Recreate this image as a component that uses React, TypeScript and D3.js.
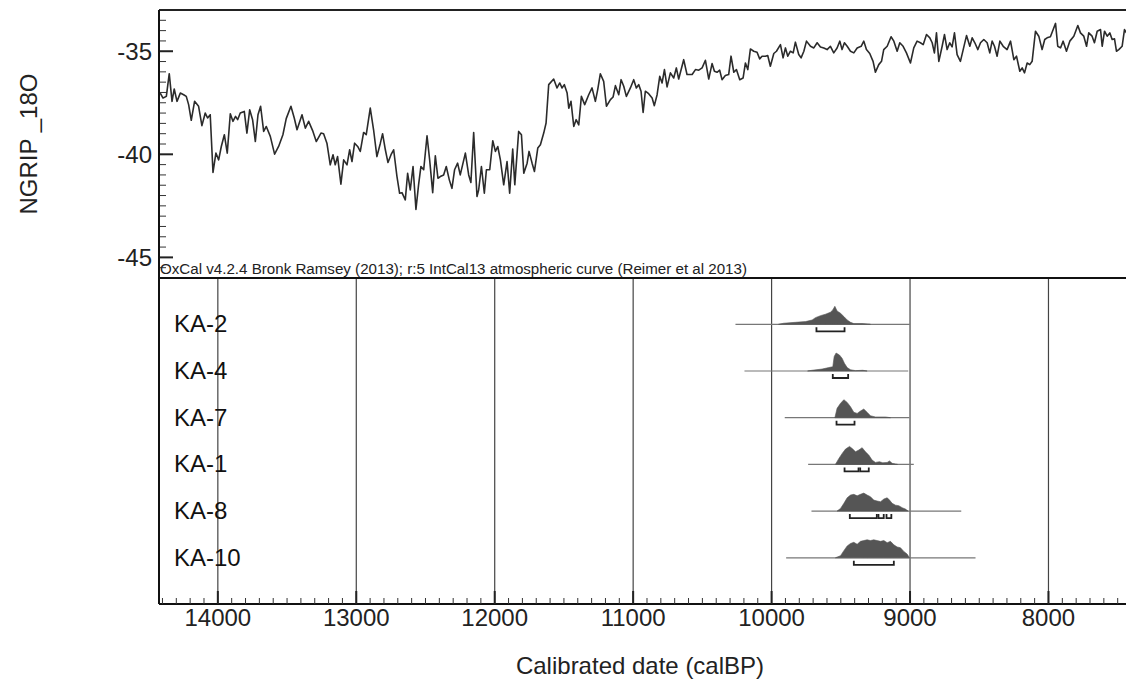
import React from "react";
import * as d3 from "d3";

// NGRIP δ18O series: [calBP, value]
const ngrip: [number, number][] = [
  [14416,-37.03],[14396,-37.27],[14372,-37.19],[14351,-36.09],[14331,-37.43],[14315,-36.83],[14295,-37.43],[14271,-37.03],[14247,-37.11],[14228,-37.19],
  [14211,-37.59],[14192,-38.35],[14168,-37.43],[14139,-37.67],[14115,-38.61],[14091,-38.0],[14074,-38.24],[14055,-38.08],[14035,-40.88],[14014,-39.94],
  [13994,-40.27],[13975,-39.62],[13953,-39.05],[13932,-39.94],[13910,-38.03],[13891,-38.4],[13872,-38.16],[13857,-38.32],[13838,-38.0],[13809,-37.92],
  [13790,-38.97],[13770,-37.84],[13749,-38.32],[13729,-39.38],[13710,-38.08],[13691,-37.67],[13669,-38.89],[13650,-38.65],[13621,-39.13],[13590,-39.99],
  [13561,-39.62],[13530,-39.05],[13506,-38.27],[13472,-37.67],[13448,-38.24],[13428,-38.81],[13392,-38.08],[13368,-38.73],[13344,-38.4],[13313,-38.89],
  [13289,-39.38],[13255,-38.97],[13236,-39.0],[13212,-39.46],[13188,-40.51],[13168,-40.02],[13152,-40.51],[13135,-40.11],[13111,-41.45],[13091,-40.27],
  [13067,-40.51],[13048,-39.78],[13031,-40.35],[13012,-39.46],[12990,-39.62],[12971,-39.86],[12947,-38.94],[12928,-39.05],[12899,-37.76],[12875,-38.81],
  [12851,-40.11],[12826,-39.46],[12810,-39.0],[12790,-39.78],[12771,-40.4],[12749,-40.02],[12730,-39.78],[12706,-41.08],[12687,-41.89],[12670,-41.86],
  [12646,-42.21],[12629,-40.92],[12610,-41.73],[12590,-40.59],[12569,-42.67],[12550,-41.48],[12533,-40.59],[12513,-40.75],[12489,-39.1],[12470,-40.27],
  [12448,-41.86],[12429,-40.07],[12410,-41.16],[12393,-41.08],[12369,-41.0],[12350,-40.59],[12328,-41.24],[12309,-41.65],[12290,-40.75],[12268,-40.43],
  [12249,-41.0],[12212,-39.94],[12188,-41.0],[12172,-41.37],[12152,-38.94],[12128,-42.05],[12116,-41.73],[12096,-40.59],[12075,-41.89],[12060,-40.75],
  [12036,-40.75],[12014,-39.34],[11995,-39.86],[11978,-39.62],[11959,-40.27],[11935,-41.48],[11911,-40.35],[11892,-41.89],[11870,-39.75],[11855,-41.48],
  [11827,-38.89],[11807,-39.05],[11790,-40.92],[11766,-40.43],[11752,-39.86],[11730,-40.43],[11713,-40.83],[11689,-39.7],[11670,-39.54],[11646,-38.97],
  [11629,-38.48],[11610,-36.62],[11574,-36.35],[11550,-36.78],[11530,-36.54],[11514,-36.78],[11497,-36.62],[11477,-37.03],[11465,-37.76],[11449,-37.43],
  [11429,-38.65],[11412,-38.32],[11393,-38.57],[11374,-37.19],[11350,-37.59],[11321,-37.11],[11297,-36.78],[11273,-37.43],[11256,-36.86],[11237,-36.09],
  [11213,-36.46],[11193,-37.67],[11164,-37.35],[11145,-37.22],[11128,-36.67],[11104,-37.11],[11087,-36.38],[11068,-36.7],[11049,-37.19],[11020,-36.78],
  [10996,-36.38],[10977,-36.78],[10960,-36.62],[10943,-36.94],[10928,-37.97],[10912,-36.94],[10888,-37.06],[10863,-37.27],[10847,-37.64],[10827,-37.11],
  [10808,-36.22],[10791,-36.54],[10774,-35.89],[10755,-36.73],[10731,-36.05],[10707,-36.3],[10688,-35.81],[10671,-36.35],[10635,-35.41],[10611,-36.13],
  [10574,-36.13],[10550,-35.89],[10526,-35.92],[10502,-35.81],[10478,-35.44],[10454,-36.35],[10430,-35.6],[10413,-35.97],[10394,-36.02],[10375,-35.92],
  [10358,-36.38],[10334,-36.18],[10310,-36.13],[10293,-35.24],[10273,-36.02],[10254,-35.89],[10230,-36.38],[10206,-36.3],[10189,-35.57],[10172,-35.89],
  [10153,-34.89],[10129,-35.0],[10105,-35.05],[10086,-35.37],[10069,-35.24],[10045,-35.24],[10028,-35.21],[10009,-35.73],[9984,-35.11],[9965,-35.0],
  [9936,-34.68],[9917,-35.32],[9900,-34.84],[9883,-35.24],[9864,-35.0],[9844,-35.08],[9828,-34.56],[9804,-35.16],[9787,-35.32],[9767,-35.0],
  [9748,-34.51],[9719,-34.76],[9695,-34.84],[9671,-34.59],[9647,-34.79],[9623,-34.84],[9599,-34.92],[9575,-34.76],[9551,-35.08],[9527,-34.84],
  [9507,-34.51],[9491,-34.92],[9474,-34.59],[9454,-34.76],[9430,-35.0],[9406,-35.08],[9382,-34.84],[9353,-34.76],[9334,-34.51],[9315,-34.92],
  [9291,-35.11],[9267,-35.49],[9250,-36.02],[9226,-35.65],[9206,-35.49],[9190,-34.92],[9165,-34.76],[9137,-34.3],[9117,-34.51],[9093,-35.0],
  [9074,-34.59],[9050,-34.76],[9026,-35.08],[8997,-35.57],[8973,-34.84],[8949,-34.51],[8925,-34.59],[8905,-34.68],[8881,-34.19],[8857,-34.35],
  [8840,-34.59],[8824,-35.08],[8809,-34.11],[8792,-35.49],[8768,-34.76],[8751,-34.19],[8732,-34.92],[8713,-34.59],[8696,-34.79],[8679,-34.11],
  [8660,-35.16],[8636,-35.49],[8616,-34.92],[8592,-34.24],[8568,-34.76],[8551,-34.35],[8532,-34.59],[8510,-34.92],[8491,-34.59],[8467,-34.43],
  [8443,-34.59],[8424,-35.08],[8407,-34.51],[8390,-34.76],[8371,-35.24],[8351,-34.51],[8327,-34.76],[8299,-34.92],[8274,-34.51],[8250,-35.41],
  [8231,-35.24],[8207,-35.97],[8190,-35.81],[8173,-36.05],[8154,-35.57],[8135,-35.65],[8118,-35.49],[8094,-34.03],[8070,-34.27],[8046,-34.92],
  [8027,-34.43],[8010,-34.35],[7986,-34.3],[7966,-33.95],[7949,-33.65],[7933,-34.76],[7913,-34.84],[7894,-34.51],[7870,-35.0],[7846,-34.51],
  [7817,-34.27],[7788,-33.75],[7769,-34.11],[7745,-34.27],[7725,-34.76],[7709,-34.11],[7685,-34.27],[7668,-34.59],[7648,-34.03],[7624,-33.95],
  [7612,-34.76],[7595,-34.03],[7576,-34.27],[7557,-34.11],[7540,-34.43],[7523,-34.4],[7509,-35.0],[7492,-34.92],[7468,-34.76],[7451,-33.95],[7437,-34.11],
];

// Sample names (top to bottom)
const samples = ["KA-2", "KA-4", "KA-7", "KA-1", "KA-8", "KA-10"];

// Posterior densities: [calBP, relative probability]
const ka2Density: [number, number][] = [
  [9950,0],[9912,0.06],[9828,0.11],[9755,0.15],[9707,0.24],[9683,0.37],[9647,0.48],[9611,0.56],[9575,0.67],[9558,0.8],[9543,1.0],
  [9527,0.74],[9502,0.61],[9478,0.43],[9454,0.24],[9430,0.11],[9406,0.04],[9346,0.04],[9310,0.02],[9286,0],
];
const ka4Density: [number, number][] = [
  [9740,0],[9707,0.04],[9635,0.11],[9587,0.19],[9558,0.24],[9548,0.8],[9534,1.0],[9510,0.89],[9490,0.7],[9474,0.43],
  [9454,0.19],[9430,0.07],[9394,0.02],[9341,0.04],[9310,0],
];
const ka7Density: [number, number][] = [
  [9543,0],[9527,0.52],[9502,0.8],[9478,1.0],[9454,0.85],[9430,0.61],[9406,0.3],[9382,0.24],[9358,0.37],[9334,0.48],
  [9310,0.3],[9286,0.11],[9250,0.04],[9177,0.04],[9141,0],
];
const ka1Density: [number, number][] = [
  [9539,0],[9514,0.33],[9490,0.61],[9466,0.85],[9437,1.0],[9413,0.85],[9394,0.7],[9370,0.8],[9346,0.93],[9322,0.7],
  [9298,0.52],[9274,0.24],[9250,0.11],[9221,0.15],[9197,0.09],[9165,0.11],[9148,0.19],[9129,0.06],[9105,0.02],[9090,0],
];
const ka8Density: [number, number][] = [
  [9527,0],[9502,0.15],[9478,0.43],[9454,0.74],[9430,0.89],[9406,0.93],[9382,0.85],[9358,0.93],[9334,1.0],[9310,0.89],
  [9286,0.8],[9262,0.61],[9238,0.56],[9213,0.52],[9189,0.67],[9165,0.74],[9148,0.61],[9129,0.43],[9105,0.33],[9081,0.3],
  [9057,0.19],[9033,0.11],[9014,0],
];
const ka10Density: [number, number][] = [
  [9539,0],[9502,0.11],[9478,0.37],[9454,0.61],[9430,0.74],[9406,0.8],[9382,0.7],[9358,0.85],[9334,0.89],[9310,0.93],
  [9286,0.89],[9262,0.93],[9238,0.89],[9213,0.85],[9189,0.89],[9165,0.78],[9141,0.85],[9117,0.67],[9093,0.56],[9069,0.52],
  [9045,0.33],[9021,0.19],[9004,0],
];
const densities = [ka2Density, ka4Density, ka7Density, ka1Density, ka8Density, ka10Density];

// Full extent of each distribution's baseline [from, to] calBP
const extents: [number, number][] = [
  [10261, 9001], [10196, 9013], [9905, 9004], [9736, 8973], [9712, 8630], [9895, 8527],
];

// 68.2% highest-density ranges
const ranges: [number, number][][] = [
  [[9676, 9473]],
  [[9558, 9447]],
  [[9531, 9401]],
  [[9473, 9372], [9360, 9298]],
  [[9435, 9240], [9228, 9190], [9170, 9135]],
  [[9406, 9117]],
];

const xTicksMajor = [14000, 13000, 12000, 11000, 10000, 9000, 8000];
const yTicksMajor = [-35, -40, -45];

const W = 1126, H = 684;
const FONT = "'Liberation Sans', Arial, Helvetica, sans-serif";

export default function App() {
  const left = 159, right = 1126;
  const topY = 10, midY = 278, axisY = 604;
  const x = d3.scaleLinear().domain([14425, 7440]).range([left, right]);
  const y = d3.scaleLinear().domain([-46, -33]).range([midY, topY]);

  const line = d3.line<[number, number]>().x(d => x(d[0])).y(d => y(d[1]));

  const rowY0 = 324.3, rowStep = 46.7, peakH = 18;

  const minorX = d3.range(14400, 7400, -100).filter(v => v % 1000 !== 0);
  const minorY = d3.range(-45.5, -33, 0.5).filter(v => v % 5 !== 0);

  return (
    <svg width={W} height={H} style={{ position: "absolute", left: 0, top: 0, background: "#fff" }} fontFamily={FONT}>
      <defs>
        <clipPath id="topclip"><rect x={left} y={topY} width={right - left} height={midY - topY} /></clipPath>
      </defs>
      {/* Y label */}
      <text transform={`translate(37,144) rotate(-90)`} textAnchor="middle" fontSize={24} fill="#222">NGRIP _18O</text>

      {/* gridlines in lower panel */}
      {xTicksMajor.map(t => (
        <line key={"g" + t} x1={x(t)} x2={x(t)} y1={midY} y2={axisY} stroke="#444" strokeWidth={1.2} />
      ))}

      {/* top panel curve */}
      <path d={line(ngrip) || ""} fill="none" stroke="#2b2b2b" strokeWidth={1.6} strokeLinejoin="round" clipPath="url(#topclip)" />

      {/* Y ticks */}
      {yTicksMajor.map(t => (
        <g key={"y" + t}>
          <line x1={left} x2={left + 14} y1={y(t)} y2={y(t)} stroke="#222" strokeWidth={2} />
          <text x={152} y={y(t)} dy="0.36em" textAnchor="end" fontSize={24} fill="#222">{t}</text>
        </g>
      ))}
      {minorY.map(t => (
        <line key={"ym" + t} x1={left} x2={left + 7} y1={y(t)} y2={y(t)} stroke="#333" strokeWidth={1} />
      ))}

      {/* OxCal caption */}
      <text x={160} y={274} fontSize={14} fill="#222" textLength={587} lengthAdjust="spacingAndGlyphs">
        OxCal v4.2.4 Bronk Ramsey (2013); r:5 IntCal13 atmospheric curve (Reimer et al 2013)
      </text>

      {/* distributions */}
      {samples.map((name, i) => {
        const base = rowY0 + i * rowStep;
        const dens = densities[i];
        const mx = d3.max(dens, d => d[1]) || 1;
        const area = d3.area<[number, number]>()
          .x(d => x(d[0]))
          .y0(base)
          .y1(d => base - (d[1] / mx) * peakH);
        const [e0, e1] = extents[i];
        const by = base + 7;
        return (
          <g key={name}>
            <text x={174} y={base + 8} fontSize={24} fill="#111">{name}</text>
            <line x1={x(e0)} x2={x(e1)} y1={base} y2={base} stroke="#777" strokeWidth={1.2} />
            <path d={area(dens) || ""} fill="#555" stroke="#555" strokeWidth={0.6} />
            {ranges[i].map(([r0, r1], j) => (
              <path key={j}
                d={`M${x(r0)},${by - 4}V${by}H${x(r1)}V${by - 4}`}
                fill="none" stroke="#222" strokeWidth={1.8} />
            ))}
          </g>
        );
      })}

      {/* frame */}
      <line x1={left} x2={right} y1={topY} y2={topY} stroke="#222" strokeWidth={2} />
      <line x1={left} x2={right} y1={midY} y2={midY} stroke="#111" strokeWidth={2.2} />
      <line x1={left} x2={left} y1={topY} y2={axisY} stroke="#111" strokeWidth={2} />
      <line x1={left} x2={right} y1={axisY} y2={axisY} stroke="#111" strokeWidth={2} />

      {/* X ticks */}
      {minorX.map(t => (
        <line key={"xm" + t} x1={x(t)} x2={x(t)} y1={axisY - 6} y2={axisY} stroke="#333" strokeWidth={1} />
      ))}
      {xTicksMajor.map(t => (
        <g key={"x" + t}>
          <line x1={x(t)} x2={x(t)} y1={axisY - 13} y2={axisY} stroke="#222" strokeWidth={2} />
          <text x={x(t)} y={626} textAnchor="middle" fontSize={24} fill="#222">{t}</text>
        </g>
      ))}

      <text x={640} y={674} textAnchor="middle" fontSize={24} fill="#222">Calibrated date (calBP)</text>
    </svg>
  );
}
